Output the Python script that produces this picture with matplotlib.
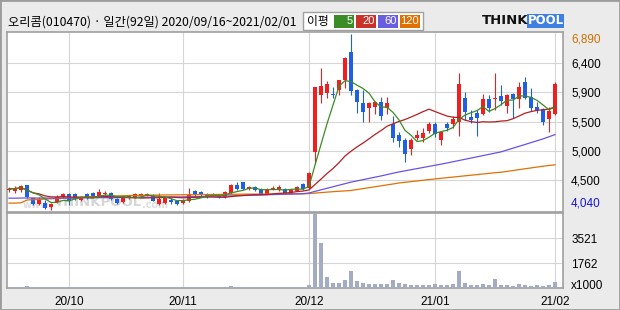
import matplotlib.pyplot as plt
from matplotlib.patches import Rectangle
import numpy as np
import pandas as pd

plt.rcParams['font.family'] = ['Noto Sans CJK KR', 'DejaVu Sans']

title = "오리콤(010470) · 일간(92일) 2020/09/16~2021/02/01"

# daily candles, 92 trading days (2020/09/16 ~ 2021/02/01)
opens = [4360, 4350, 4365, 4445, 4230, 4135, 4150, 4080, 4170, 4250,
         4300, 4300, 4200, 4300, 4310, 4265, 4300, 4320, 4220, 4170,
         4230, 4250, 4270, 4270, 4270, 4130, 4150, 4200, 4180, 4150,
         4190, 4345, 4330, 4300, 4300, 4285, 4250, 4315, 4445, 4490,
         4380, 4410, 4380, 4300, 4385, 4385, 4380, 4300, 4350, 4460,
         4390, 4980, 5900, 5935, 5920, 5985, 6145, 6600, 5985, 5770,
         5690, 5710, 5790, 5690, 5430, 5255, 5170, 5025, 5205, 5205,
         5320, 5430, 5175, 5430, 5430, 5465, 5855, 5545, 5610, 5595,
         5840, 5840, 5885, 5725, 5920, 5840, 6110, 5870, 5710, 5675,
         5510, 5595]
highs = [4410, 4430, 4445, 4450, 4240, 4250, 4200, 4150, 4280, 4320,
         4320, 4310, 4270, 4310, 4330, 4380, 4340, 4330, 4230, 4260,
         4280, 4310, 4320, 4320, 4290, 4310, 4250, 4230, 4190, 4210,
         4395, 4360, 4345, 4310, 4310, 4300, 4340, 4460, 4490, 4500,
         4430, 4420, 4390, 4390, 4420, 4440, 4390, 4380, 4420, 4480,
         4660, 6030, 6340, 6130, 6030, 6150, 6510, 6890, 6000, 5980,
         5790, 5800, 5870, 5870, 5560, 5300, 5200, 5200, 5330, 5370,
         5465, 5465, 5320, 5465, 5560, 6260, 5950, 5660, 5660, 5920,
         5900, 6260, 6065, 5920, 5935, 6110, 6190, 6015, 5790, 5690,
         5710, 6110]
lows = [4330, 4310, 4330, 4240, 4120, 4120, 4055, 4040, 4150, 4240,
        4120, 4200, 4190, 4220, 4250, 4250, 4260, 4200, 4140, 4150,
        4220, 4240, 4260, 4260, 4180, 4120, 4140, 4140, 4120, 4140,
        4170, 4270, 4270, 4240, 4270, 4240, 4240, 4300, 4370, 4370,
        4360, 4350, 4290, 4290, 4370, 4350, 4300, 4290, 4340, 4370,
        4380, 4800, 5770, 5850, 5850, 5900, 6020, 5900, 5610, 5460,
        5460, 5590, 5500, 5590, 5140, 5060, 4820, 4930, 5170, 5140,
        5290, 5220, 5090, 5320, 5365, 5240, 5500, 5450, 5240, 5580,
        5625, 5660, 5740, 5610, 5530, 5690, 5840, 5640, 5610, 5415,
        5300, 5580]
closes = [4380, 4390, 4430, 4250, 4135, 4215, 4070, 4135, 4250, 4300,
          4185, 4220, 4250, 4235, 4265, 4330, 4320, 4220, 4150, 4250,
          4260, 4290, 4300, 4300, 4190, 4215, 4235, 4170, 4135, 4200,
          4280, 4280, 4280, 4270, 4280, 4250, 4330, 4445, 4380, 4380,
          4410, 4365, 4300, 4380, 4400, 4405, 4315, 4365, 4410, 4380,
          4640, 6030, 6045, 6080, 5900, 6145, 6500, 5970, 5790, 5630,
          5770, 5790, 5560, 5770, 5205, 5160, 4945, 5170, 5255, 5285,
          5430, 5270, 5300, 5365, 5510, 6080, 5625, 5495, 5530, 5840,
          5690, 5855, 5805, 5900, 5840, 6030, 5855, 5690, 5660, 5465,
          5640, 6080]
# volume, thousands of shares
volumes = [90, 80, 85, 110, 95, 80, 90, 85, 75, 70,
           70, 75, 65, 70, 60, 65, 60, 70, 65, 60,
           60, 55, 60, 55, 60, 65, 60, 55, 55, 60,
           90, 70, 60, 55, 55, 50, 70, 140, 90, 80,
           70, 65, 60, 60, 55, 55, 60, 55, 60, 80,
           200, 5282, 3190, 790, 370, 370, 560, 1200, 500, 370,
           280, 280, 280, 280, 560, 330, 280, 200, 200, 200,
           200, 280, 200, 200, 280, 1200, 370, 200, 200, 280,
           200, 640, 200, 200, 120, 280, 200, 120, 200, 120,
           200, 450]
# long moving averages (need history before the window)
ma60 = [4230, 4230, 4232, 4233, 4233, 4232, 4232, 4231, 4231, 4232,
        4233, 4234, 4235, 4236, 4237, 4238, 4239, 4240, 4240, 4241,
        4242, 4243, 4244, 4245, 4246, 4247, 4248, 4249, 4250, 4251,
        4253, 4255, 4257, 4259, 4261, 4263, 4265, 4267, 4270, 4273,
        4276, 4279, 4282, 4285, 4288, 4291, 4294, 4297, 4300, 4303,
        4314, 4340, 4365, 4390, 4415, 4440, 4465, 4490,
        4510, 4530, 4550, 4570, 4590, 4612, 4634, 4655,
        4673, 4691, 4709, 4727, 4745, 4763, 4781, 4800,
        4820, 4840, 4860, 4880, 4900, 4920, 4940, 4960, 4980,
        5010, 5040, 5070, 5100, 5130, 5160, 5190, 5225, 5260]
ma120 = [4150, 4150, 4155, 4200, 4205, 4210, 4215, 4220, 4225, 4230,
         4235, 4240, 4244, 4248, 4252, 4256, 4260, 4263, 4266, 4269,
         4272, 4274, 4276, 4278, 4280, 4281, 4282, 4283, 4284, 4285,
         4286, 4287, 4288, 4289, 4290, 4291, 4292, 4293, 4294, 4295,
         4295, 4296, 4296, 4297, 4297, 4298, 4298, 4299, 4299, 4300,
         4305, 4312, 4320, 4328, 4335, 4342, 4348, 4355,
         4370, 4385, 4400, 4415, 4430, 4445, 4460, 4476,
         4487, 4498, 4509, 4520, 4531, 4542, 4552, 4562,
         4572, 4582, 4592, 4602, 4612, 4622, 4632, 4642, 4650,
         4664, 4678, 4692, 4706, 4720, 4734, 4748, 4760, 4770]

month_idx = [10, 29, 50, 71, 91]
month_labels = ["20/10", "20/11", "20/12", "21/01", "21/02"]
price_ticks = [6420, 5950, 5470, 4995, 4525]
price_labels = ["6,400", "5,900", "5,500", "5,000", "4,500"]
price_max, price_min = 6890, 4040
vol_ticks = [1762, 3521]
vol_max = 5282

W, H = 620, 310


def fx(x):
    return x / W


def fy(y):
    return 1 - y / H


fig = plt.figure(figsize=(6.2, 3.1), dpi=100)
fig.patch.set_facecolor('#ebebeb')

ax = fig.add_axes([fx(7), fy(212), fx(563) - fx(7), fy(32) - fy(212)])
axv = fig.add_axes([fx(7), fy(288), fx(563) - fx(7), fy(213) - fy(288)])

x = np.arange(len(closes))
o = np.array(opens)
c = np.array(closes)
up = c >= o
colors = np.where(up, '#f01e1e', '#1f5fe6')

# watermark under the candles
wm = dict(transform=fig.transFigure, fontweight='bold', family='DejaVu Sans',
          va='center', ha='left', zorder=1)
ax.text(fx(23), fy(205), "www.", fontsize=7, color='#dedede', **wm)
ax.text(fx(55), fy(203), "THINKPOOL", fontsize=9.5, color='#d6d6d6', **wm)
ax.text(fx(142), fy(205), ".com", fontsize=7, color='#dedede', **wm)

ax.vlines(x, lows, highs, colors=colors, lw=0.8, zorder=3)
ax.bar(x, np.maximum(np.abs(c - o), 16), bottom=np.minimum(o, c), width=0.72,
       color=colors, linewidth=0, zorder=4)

ma5 = pd.Series(closes).rolling(5, min_periods=1).mean()
ma20 = pd.Series(closes).rolling(20, min_periods=1).mean()
ax.plot(x, ma120, color='#e07000', lw=0.9, zorder=5)
ax.plot(x, ma60, color='#6a52e6', lw=0.9, zorder=5)
ax.plot(x, ma20, color='#b42020', lw=0.9, zorder=5)
ax.plot(x, ma5, color='#3a8c24', lw=0.9, zorder=5)

ax.set_xlim(-0.33, 92.33)
ax.set_ylim(4006, 6922)
ax.set_xticks(month_idx)
ax.set_xticklabels([])
ax.set_yticks(price_ticks)
ax.set_yticklabels(price_labels)
ax.yaxis.tick_right()
ax.tick_params(length=0, pad=5.8, labelsize=8.5)
for t in ax.get_yticklabels():
    t.set_family('Liberation Sans')
ax.grid(True, color='#d6d6d6', lw=0.8, zorder=0)
ax.text(1.0145, price_max, "6,890", transform=ax.get_yaxis_transform(), color='#d07000',
        fontsize=8.5, family='Liberation Sans', va='top', ha='left')
ax.text(1.0145, price_min, "4,040", transform=ax.get_yaxis_transform(), color='#1515d0',
        fontsize=8.5, family='Liberation Sans', va='bottom', ha='left')

axv.bar(x, volumes, width=0.82, color='#a4acc4', linewidth=0, zorder=3)
axv.set_xlim(-0.33, 92.33)
axv.set_ylim(0, 5300)
axv.set_xticks(month_idx)
axv.set_xticklabels(month_labels)
axv.set_yticks(vol_ticks)
axv.set_yticklabels([str(v) for v in vol_ticks])
axv.yaxis.tick_right()
axv.tick_params(length=0, labelsize=8.5)
axv.tick_params(axis='y', pad=5.8)
axv.tick_params(axis='x', pad=6)
for t in axv.get_yticklabels() + axv.get_xticklabels():
    t.set_family('Liberation Sans')
axv.grid(True, color='#d6d6d6', lw=0.8, zorder=0)
axv.text(1.0145, 0.03, "x1000", transform=axv.transAxes, fontsize=8.5,
         family='Liberation Sans', va='center', ha='left')

for a in (ax, axv):
    a.set_facecolor('white')
    for s in a.spines.values():
        s.set_color('#a0a0a0')
        s.set_linewidth(1.2)

# header
fig.text(fx(8), fy(22), title, fontsize=8.8, va='center', ha='left')

fig.patches.append(Rectangle((fx(303), fy(30)), fx(120), 18 / H, transform=fig.transFigure,
                             facecolor='white', edgecolor='#a0a0a0', lw=1))
fig.text(fx(318), fy(21), "이평", fontsize=8.5, va='center', ha='center')
legend_items = [("5", '#3a8c24'), ("20", '#c83228'), ("60", '#6a5ee0'), ("120", '#e07000')]
for k, (lab, col) in enumerate(legend_items):
    x0 = 334 + 22 * k
    fig.patches.append(Rectangle((fx(x0), fy(28)), fx(20), 13 / H, transform=fig.transFigure,
                                 facecolor=col, edgecolor='none'))
    fig.text(fx(x0 + 19), fy(21.5), lab, fontsize=8, color='white', va='center', ha='right',
             family='Liberation Sans')

# logo
fig.text(fx(482), fy(21), "THINK", fontsize=9.5, fontweight='heavy', color='#111111',
         va='center', ha='left', family='DejaVu Sans')
fig.patches.append(Rectangle((fx(527), fy(28)), fx(37), 14 / H, transform=fig.transFigure,
                             facecolor='#3f7fe2', edgecolor='none'))
fig.text(fx(545.5), fy(21), "POOL", fontsize=8.5, fontweight='heavy', color='white',
         va='center', ha='center', family='DejaVu Sans')

fig.patches.append(Rectangle((0, 0), 1, 1, transform=fig.transFigure, fill=False,
                             edgecolor='#9c9c9c', lw=2))

fig.savefig('out.png', dpi=100, facecolor=fig.get_facecolor())
